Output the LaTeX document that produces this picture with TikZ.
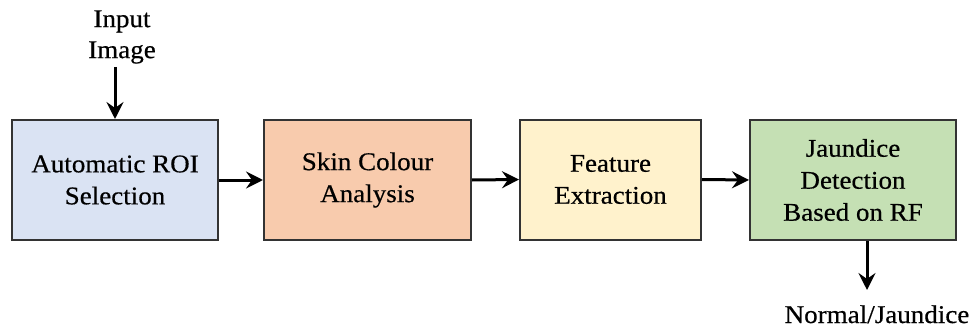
\documentclass[tikz,border=0pt]{standalone}
\usepackage{fontspec}
\setmainfont[FakeStretch=1.06,FakeBold=0.5]{Liberation Serif}
\usetikzlibrary{arrows.meta}
\definecolor{cblue}{HTML}{DAE3F3}
\definecolor{corange}{HTML}{F8CBAD}
\definecolor{cyellow}{HTML}{FFF2CC}
\definecolor{cgreen}{HTML}{C5E0B4}
\definecolor{cborder}{HTML}{333333}
\begin{document}
\begin{tikzpicture}[x=1pt,y=-1pt,
  blk/.style={draw=cborder,line width=2pt,minimum height=120pt,align=center,
    inner sep=0pt,font=\fontsize{25.5}{32}\selectfont},
  lbl/.style={align=center,inner sep=0pt,font=\fontsize{25.5}{31}\selectfont},
  arr/.style={line width=3pt,-{Stealth[length=17pt,width=17pt,inset=6pt]}}]
\useasboundingbox (0,0) rectangle (970,329);
\node[blk,fill=cblue,minimum width=206pt] (b1) at (115,180) {Automatic ROI\\Selection};
\node[blk,fill=corange,minimum width=207pt] (b2) at (367.5,180) {Skin Colour\\Analysis};
\node[blk,fill=cyellow,minimum width=181pt] (b3) at (610.5,179.5) {Feature\\Extraction};
\node[blk,fill=cgreen,minimum width=206pt] (b4) at (853,180) {Jaundice\\Detection\\Based on RF};
\node[lbl] (in) at (122,37) {Input\\Image};
\node[lbl,anchor=base] (out) at (877,323) {Normal/Jaundice};
\coordinate (inarr) at (115,67);
\coordinate (outarr) at (867,290);
\draw[arr] (inarr) -- (b1.north);
\draw[arr] (b1.east) -- (b2.west);
\draw[arr] (b2.east) -- (b3.west);
\draw[arr] (b3.east) -- (b4.west);
\draw[arr] ([xshift=14pt]b4.south) -- (outarr);
\end{tikzpicture}
\end{document}
